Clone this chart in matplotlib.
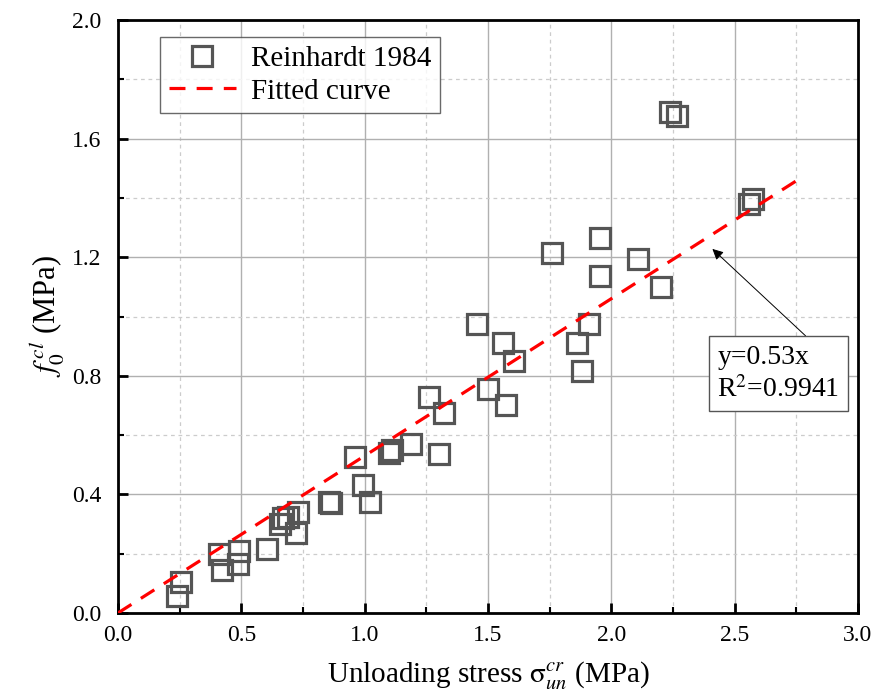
import numpy as np
import matplotlib
matplotlib.use("Agg")
import matplotlib.pyplot as plt
from matplotlib.ticker import MultipleLocator

plt.rcParams['font.family'] = 'Liberation Serif'
plt.rcParams['mathtext.fontset'] = 'stix'

# ---- data ----
stress = [0.24, 0.255, 0.41, 0.42, 0.485, 0.49, 0.605, 0.655, 0.67, 0.69,
          0.72, 0.73, 0.855, 0.865, 0.96, 0.995, 1.02, 1.10, 1.11, 1.19,
          1.26, 1.30, 1.32, 1.455, 1.50, 1.56, 1.575, 1.605, 1.76, 1.86,
          1.88, 1.91, 1.955, 1.955, 2.11, 2.20, 2.24, 2.265, 2.56, 2.575]
f0 = [0.057, 0.105, 0.20, 0.145, 0.165, 0.21, 0.215, 0.30, 0.32, 0.325,
      0.27, 0.34, 0.375, 0.37, 0.525, 0.43, 0.375, 0.54, 0.55, 0.57,
      0.73, 0.535, 0.675, 0.975, 0.755, 0.91, 0.70, 0.85, 1.215, 0.91,
      0.815, 0.975, 1.265, 1.135, 1.195, 1.10, 1.69, 1.675, 1.38, 1.395]
slope = 0.53
fit_x = [0.0, 2.75]

fig = plt.figure(figsize=(8.79, 6.98), dpi=100)
ax = fig.add_axes([0.1342, 0.1218, 0.8418, 0.8495])

ax.plot(stress, f0, linestyle='none', marker='s', markersize=14.5,
        markerfacecolor='none', markeredgecolor='#555555', markeredgewidth=2.3,
        label='Reinhardt 1984', zorder=3)
fx = np.array(fit_x)
ax.plot(fx, slope * fx, color='#ff0000', linewidth=2.3, dashes=(5, 3.5),
        label='Fitted curve', zorder=4)

ax.set_xlim(0, 3.0)
ax.set_ylim(0, 2.0)
ax.xaxis.set_major_locator(MultipleLocator(0.5))
ax.xaxis.set_minor_locator(MultipleLocator(0.25))
ax.yaxis.set_major_locator(MultipleLocator(0.4))
ax.yaxis.set_minor_locator(MultipleLocator(0.2))
ax.xaxis.set_major_formatter(lambda v, p: f"{v:.1f}")
ax.yaxis.set_major_formatter(lambda v, p: f"{v:.1f}")

ax.grid(which='major', color='#b0b0b0', linewidth=1.0, linestyle='-')
ax.grid(which='minor', color='#cccccc', linewidth=0.9, linestyle=(0, (3, 3)))
ax.set_axisbelow(True)

ax.tick_params(which='major', direction='in', length=7, width=2,
               labelsize=17, top=False, right=False)
ax.tick_params(axis='y', which='major', pad=12)
ax.tick_params(axis='x', which='major', pad=9)
ax.tick_params(which='minor', direction='in', length=4, width=1.5,
               top=False, right=False)
for s in ax.spines.values():
    s.set_linewidth(2)

ax.set_xlabel(r'Unloading stress $\mathrm{\sigma}_{un}^{cr}$ (MPa)', fontsize=21, labelpad=9)
ax.set_ylabel(r'$f_0^{\,cl}$ (MPa)', fontsize=22, labelpad=4)

leg = ax.legend(loc='upper left', bbox_to_anchor=(0.057, 0.971), borderaxespad=0,
                fontsize=21, frameon=True, fancybox=False, edgecolor='#444444',
                handlelength=2.3, handletextpad=0.5, borderpad=0.3,
                labelspacing=0.2)
leg.get_frame().set_linewidth(1.0)

ax.annotate('y=0.53x\nR$^2$=0.9941', xy=(2.41, 1.228), xytext=(2.43, 0.905),
            fontsize=20, ha='left', va='top', linespacing=1.3,
            bbox=dict(boxstyle='square,pad=0.3', fc='white', ec='#555555', lw=1),
            arrowprops=dict(arrowstyle='-|>', color='black', lw=0.7,
                            mutation_scale=16, shrinkA=0, shrinkB=0,
                            relpos=(0.8, 1.0)))

fig.savefig('out.png', dpi=100)
